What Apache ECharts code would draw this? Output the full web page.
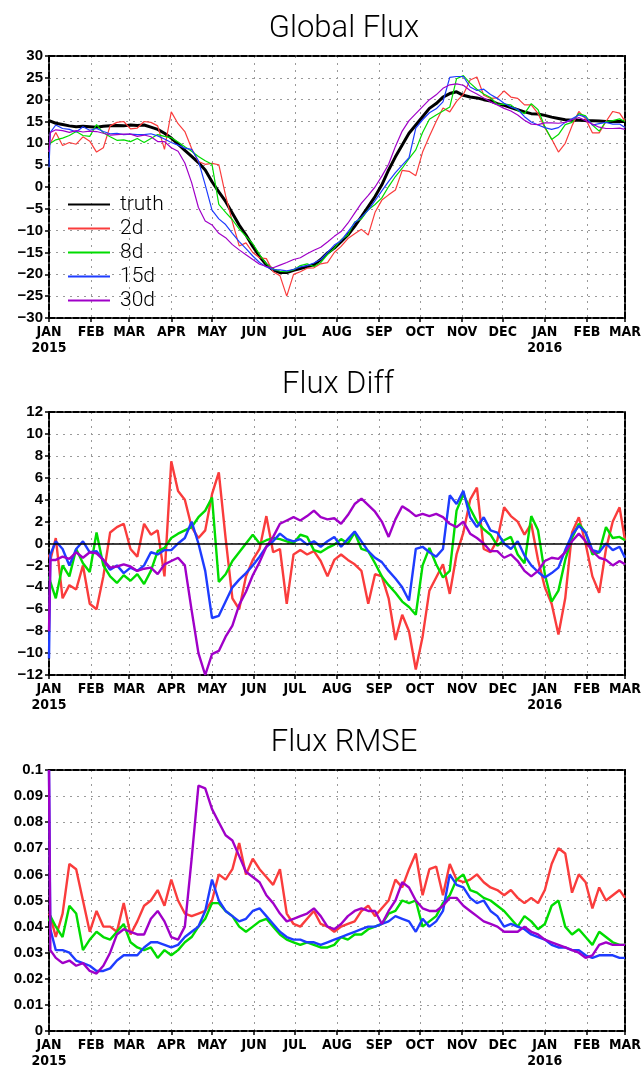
<!DOCTYPE html>
<html>
<head>
<meta charset="utf-8">
<title>Global Flux</title>
<script src="https://cdn.jsdelivr.net/npm/echarts@6/dist/echarts.min.js"></script>
<style>
  html, body { margin: 0; padding: 0; background: #fff; }
  #chart { width: 644px; height: 1069px; }
</style>
</head>
<body>
<div id="chart"></div>
<script>
// ---- x axis: one category per day, 1 Jan 2015 .. 1 Mar 2016 ----
const monthStarts = [0, 31, 59, 90, 120, 151, 181, 212, 243, 273, 304, 334, 365, 396, 424];
const monthLabels = ['JAN\n2015', 'FEB', 'MAR', 'APR', 'MAY', 'JUN', 'JUL', 'AUG', 'SEP', 'OCT', 'NOV', 'DEC', 'JAN\n2016', 'FEB', 'MAR'];

// sample days (day index from 1 Jan 2015)
const days = [0, 1,
  5, 10, 15, 20, 25, 30, 35, 40, 45, 50,
  55, 60, 65, 70, 75, 80, 85, 90, 95, 100,
  105, 110, 115, 120, 125, 130, 135, 140, 145, 150,
  155, 160, 165, 170, 175, 180, 185, 190, 195, 200,
  205, 210, 215, 220, 225, 230, 235, 240, 245, 250,
  255, 260, 265, 270, 275, 280, 285, 290, 295, 300,
  305, 310, 315, 320, 325, 330, 335, 340, 345, 350,
  355, 360, 365, 370, 375, 380, 385, 390, 395, 400,
  405, 410, 415, 420,
  424];

// ---- panel 1: Global Flux ----
const fluxTruth = [15.2, 15.1,
  14.6, 14.3, 14.0, 13.8, 13.9, 13.8, 13.7, 13.9, 14.0, 14.1,
  14.0, 14.2, 14.1, 14.2, 13.7, 13.2, 12.3, 11.2, 9.8, 8.4,
  7.0, 5.6, 3.9, 1.2, -1.1, -3.3, -6.0, -8.7, -11.0, -13.6,
  -15.9, -17.8, -19.0, -19.6, -19.6, -19.1, -18.7, -18.2, -17.8, -16.6,
  -15.1, -14.0, -12.5, -11.0, -9.0, -6.8, -4.5, -2.2, 0.5, 3.9,
  6.9, 9.6, 12.3, 14.2, 16.1, 18.0, 19.1, 20.6, 21.4, 21.8,
  21.0, 20.6, 20.4, 20.0, 19.7, 19.1, 18.7, 18.2, 17.7, 17.2,
  16.8, 16.7, 16.4, 16.0, 15.7, 15.4, 15.3, 15.3, 15.2, 15.2,
  15.1, 15.0, 15.0, 15.0,
  15.0];
const flux2d = [9.5, 10.0,
  12.5, 9.5, 10.2, 9.8, 11.5, 10.5, 8.0, 9.0, 14.0, 14.8,
  15.0, 13.3, 13.5, 15.0, 14.8, 14.0, 8.6, 17.2, 14.5, 12.7,
  8.8, 5.8, 5.2, 5.4, 5.1, -2.0, -8.0, -13.5, -12.8, -15.0,
  -16.2, -16.4, -19.4, -20.3, -25.0, -20.0, -19.4, -18.6, -18.5, -17.6,
  -17.3, -15.0, -13.6, -11.8, -10.7, -9.7, -11.0, -5.8, -3.0, -1.8,
  -0.7, 3.8, 3.6, 2.6, 8.0, 11.6, 15.0, 18.1, 17.2, 19.6,
  21.2, 24.5, 25.2, 21.0, 20.3, 20.4, 22.0, 20.6, 20.3, 18.8,
  18.8, 16.8, 13.5, 11.0, 8.0, 10.0, 14.0, 17.3, 15.6, 12.4,
  12.4, 15.0, 17.3, 16.9,
  15.1];
const flux8d = [9.5, 10.0,
  10.8, 11.2, 11.8, 12.7, 11.8, 11.6, 14.3, 12.4, 11.5, 10.7,
  10.8, 10.4, 11.1, 10.2, 11.1, 12.0, 11.6, 11.3, 10.3, 9.2,
  8.2, 7.0, 6.0, 5.2, -4.0, -5.8, -7.5, -9.6, -11.3, -13.0,
  -15.5, -17.6, -18.8, -19.3, -19.4, -19.0, -18.0, -17.6, -18.2, -17.3,
  -15.5, -14.0, -12.1, -11.0, -8.0, -7.3, -5.2, -4.0, -2.5, 0.1,
  2.4, 4.3, 6.5, 8.5, 12.5, 15.5, 16.5, 17.4, 18.3, 24.8,
  25.5, 23.8, 22.4, 21.3, 20.5, 18.9, 19.0, 18.8, 17.5, 16.8,
  19.1, 17.7, 13.8, 10.9, 12.0, 14.3, 14.8, 16.8, 16.3, 14.2,
  12.8, 15.0, 15.2, 15.6,
  15.0];
const flux15d = [4.6, 12.5,
  14.2, 13.4, 13.2, 12.6, 13.8, 13.0, 13.4, 12.7, 12.2, 12.3,
  12.0, 12.1, 12.0, 12.0, 12.2, 11.7, 11.0, 10.2, 9.6, 8.9,
  8.6, 6.0, 0.5, -5.3, -7.3, -8.6, -10.6, -12.5, -14.1, -15.8,
  -17.3, -18.3, -18.9, -19.0, -19.2, -18.9, -18.3, -18.0, -17.4, -16.6,
  -15.0, -13.3, -12.3, -10.3, -8.2, -6.9, -5.3, -3.1, -0.9, 1.3,
  3.3, 5.0, 6.7, 13.5, 15.4, 17.0, 17.9, 19.5, 25.1, 25.3,
  25.3, 22.9, 22.1, 22.4, 21.2, 20.3, 19.2, 18.3, 17.8, 16.1,
  14.9, 14.2, 13.6, 13.2, 13.6, 14.8, 15.6, 16.5, 16.0, 14.2,
  14.5, 14.8, 14.4, 14.4,
  13.6];
const flux30d = [8.0, 12.5,
  13.1, 12.9, 12.5, 12.9, 12.6, 12.8, 12.7, 12.3, 11.9, 12.0,
  12.1, 12.1, 11.6, 11.9, 11.5, 10.4, 10.4, 9.0, 8.2, 5.5,
  1.0, -4.7, -7.8, -8.7, -10.6, -11.6, -13.2, -14.4, -15.5, -16.6,
  -17.7, -18.2, -18.5, -17.9, -17.3, -16.6, -16.2, -15.3, -14.5, -13.8,
  -12.6, -11.3, -10.2, -8.3, -6.0, -3.7, -1.9, 0.0, 2.5, 5.2,
  9.3, 12.8, 15.2, 16.8, 18.4, 20.0, 21.1, 22.6, 23.4, 23.6,
  23.3, 22.1, 21.3, 20.4, 19.5, 18.8, 18.0, 17.4, 16.5, 15.3,
  14.4, 14.3, 14.7, 14.7, 14.6, 14.8, 15.4, 15.9, 15.2, 14.4,
  13.7, 13.4, 13.4, 13.5,
  13.2];

// ---- panel 2: Flux Diff ----
const diff2d = [-1.0, -1.5,
  0.5, -5.0, -3.8, -4.2, -2.0, -5.5, -6.0, -3.0, 1.0, 1.5,
  1.8, -0.5, -1.2, 1.8, 0.8, 1.2, -3.0, 7.5, 4.8, 4.0,
  1.5, 0.5, 1.2, 4.5, 6.5, 0.5, -5.0, -6.0, -3.0, -1.5,
  -0.5, 2.5, -0.8, -0.5, -5.5, -1.0, -0.6, -1.0, -0.7, -1.6,
  -3.0, -1.5, -1.0, -1.5, -1.9, -2.5, -5.5, -2.8, -3.0, -5.0,
  -8.8, -6.5, -8.0, -11.5, -8.5, -4.3, -3.1, -1.9, -4.6, -1.0,
  1.0, 4.0, 5.1, -0.5, -0.8, 0.3, 3.3, 2.5, 2.0, 0.8,
  1.8, -1.5, -4.0, -5.5, -8.3, -5.0, 1.0, 2.4, 0.0, -3.0,
  -4.5, -0.5, 2.0, 3.3,
  0.3];
const diff8d = [-3.0, -3.5,
  -5.0, -2.0, -3.0, -0.5, -1.8, -2.6, 1.0, -2.0, -3.0, -3.6,
  -2.9, -3.4, -2.8, -3.7, -2.5, -0.7, -0.4, 0.5, 0.9, 1.2,
  1.5, 2.4, 3.0, 4.2, -3.5, -2.8, -1.6, -0.8, 0.0, 0.8,
  0.0, 0.3, 0.5, 0.4, 0.2, 0.0, 0.8, 0.6, -0.6, -0.8,
  -0.4, -0.1, 0.4, 0.0, 1.0, -0.5, -0.7, -1.8, -3.0, -3.8,
  -4.5, -5.3, -5.8, -6.5, -2.0, -0.4, -1.9, -3.1, -2.5, 3.0,
  4.5, 3.2, 2.0, 1.3, 0.8, -0.2, 0.3, 0.6, -1.0, -1.8,
  2.5, 1.2, -2.8, -5.3, -4.3, -1.5, 0.5, 1.8, 1.0, -1.0,
  -0.8, 1.5, 0.5, 0.6,
  0.3];
const diff15d = [-10.5, -1.0,
  0.2, -0.5, -2.0, -0.5, 0.2, -0.8, -0.7, -1.5, -2.4, -2.0,
  -2.7, -2.2, -2.5, -2.0, -0.8, -1.0, -0.6, -0.6, 0.0, 0.5,
  2.0, 0.0, -2.5, -6.8, -6.6, -5.3, -4.0, -3.3, -2.7, -2.0,
  -1.2, -0.3, 0.2, 0.9, 0.4, 0.2, 0.4, -0.1, 0.2, -0.3,
  0.2, 0.6, -0.3, 0.4, 1.1, 0.2, -0.7, -1.3, -1.7, -2.5,
  -3.2, -4.0, -5.2, -0.5, -0.3, -0.8, -1.2, -0.5, 4.4, 3.6,
  4.8, 2.4, 1.5, 2.4, 1.2, 1.0, 0.0, -0.5, 0.2, -1.1,
  -2.0, -2.6, -3.1, -2.7, -2.2, -0.6, 0.8, 1.6, 1.0, -0.6,
  -0.8, 0.0, -0.6, -0.3,
  -1.3];
const diff30d = [-8.0, -1.5,
  -1.5, -1.2, -1.4, -0.8, -1.3, -0.8, -0.9, -1.5, -2.2, -2.1,
  -1.9, -2.1, -2.5, -2.3, -2.2, -2.8, -1.9, -1.6, -1.3, -2.0,
  -6.1, -10.0, -12.0, -10.1, -9.8, -8.5, -7.5, -5.6, -4.4, -2.9,
  -1.7, -0.3, 0.6, 1.8, 2.1, 2.4, 2.1, 2.5, 3.0, 2.4,
  2.2, 2.3, 1.8, 2.6, 3.6, 4.1, 3.5, 2.9, 2.0, 0.6,
  2.2, 3.4, 3.0, 2.5, 2.7, 2.5, 2.7, 2.4, 1.8, 1.5,
  2.0, 0.9, 0.5, 0.0, -0.7, -0.7, -1.3, -1.0, -1.6, -2.5,
  -3.0, -2.5, -1.6, -1.3, -1.4, -0.8, 0.2, 0.9, 0.2, -0.7,
  -1.3, -1.5, -2.0, -1.6,
  -1.9];

// ---- panel 3: Flux RMSE ----
const rmse2d = [0.045, 0.044,
  0.036, 0.045, 0.064, 0.062, 0.050, 0.038, 0.046, 0.040, 0.040, 0.038,
  0.049, 0.037, 0.042, 0.048, 0.050, 0.054, 0.048, 0.058, 0.050, 0.045,
  0.044, 0.045, 0.046, 0.050, 0.060, 0.058, 0.062, 0.072, 0.060, 0.066,
  0.062, 0.059, 0.056, 0.062, 0.045, 0.041, 0.040, 0.043, 0.046, 0.041,
  0.040, 0.038, 0.040, 0.041, 0.042, 0.046, 0.048, 0.044, 0.047, 0.050,
  0.058, 0.055, 0.062, 0.068, 0.052, 0.062, 0.063, 0.052, 0.064, 0.058,
  0.057, 0.058, 0.060, 0.057, 0.055, 0.054, 0.052, 0.054, 0.051, 0.049,
  0.051, 0.049, 0.054, 0.064, 0.070, 0.068, 0.053, 0.060, 0.057, 0.047,
  0.055, 0.050, 0.052, 0.054,
  0.051];
const rmse8d = [0.042, 0.044,
  0.040, 0.036, 0.048, 0.045, 0.031, 0.035, 0.038, 0.036, 0.035, 0.038,
  0.041, 0.034, 0.032, 0.031, 0.032, 0.028, 0.031, 0.029, 0.031, 0.034,
  0.036, 0.040, 0.043, 0.049, 0.049, 0.046, 0.044, 0.040, 0.038, 0.040,
  0.042, 0.043, 0.040, 0.037, 0.035, 0.034, 0.033, 0.034, 0.033, 0.032,
  0.032, 0.033, 0.036, 0.035, 0.037, 0.037, 0.039, 0.040, 0.041, 0.045,
  0.046, 0.050, 0.049, 0.050, 0.040, 0.042, 0.044, 0.049, 0.052, 0.058,
  0.060, 0.054, 0.053, 0.051, 0.050, 0.048, 0.046, 0.043, 0.040, 0.044,
  0.042, 0.039, 0.041, 0.048, 0.050, 0.040, 0.037, 0.039, 0.036, 0.033,
  0.038, 0.036, 0.034, 0.033,
  0.033];
const rmse15d = [0.100, 0.039,
  0.031, 0.031, 0.030, 0.027, 0.026, 0.025, 0.023, 0.023, 0.024, 0.027,
  0.029, 0.029, 0.029, 0.032, 0.034, 0.034, 0.033, 0.032, 0.033, 0.036,
  0.038, 0.040, 0.046, 0.058, 0.050, 0.046, 0.044, 0.042, 0.043, 0.046,
  0.047, 0.044, 0.041, 0.038, 0.036, 0.035, 0.035, 0.034, 0.034, 0.033,
  0.034, 0.035, 0.036, 0.037, 0.038, 0.039, 0.040, 0.040, 0.041, 0.042,
  0.044, 0.043, 0.042, 0.038, 0.043, 0.040, 0.042, 0.046, 0.060, 0.056,
  0.055, 0.051, 0.049, 0.050, 0.046, 0.044, 0.040, 0.041, 0.040, 0.039,
  0.037, 0.036, 0.035, 0.033, 0.032, 0.032, 0.031, 0.031, 0.029, 0.028,
  0.029, 0.029, 0.029, 0.028,
  0.028];
const rmse30d = [0.100, 0.031,
  0.028, 0.026, 0.027, 0.025, 0.026, 0.023, 0.022, 0.025, 0.030, 0.037,
  0.039, 0.038, 0.037, 0.037, 0.043, 0.046, 0.042, 0.036, 0.035, 0.040,
  0.066, 0.094, 0.093, 0.085, 0.080, 0.075, 0.073, 0.067, 0.061, 0.059,
  0.057, 0.052, 0.049, 0.045, 0.042, 0.043, 0.044, 0.045, 0.047, 0.044,
  0.040, 0.039, 0.041, 0.044, 0.046, 0.047, 0.046, 0.046, 0.041, 0.046,
  0.050, 0.057, 0.055, 0.050, 0.047, 0.046, 0.046, 0.048, 0.051, 0.051,
  0.048, 0.046, 0.044, 0.042, 0.041, 0.040, 0.038, 0.038, 0.038, 0.040,
  0.038, 0.037, 0.035, 0.034, 0.033, 0.032, 0.031, 0.030, 0.028, 0.029,
  0.033, 0.034, 0.033, 0.033,
  0.033];

// ============ 样式 ============
const C_TRUTH = '#000000';
const C_2D = '#fa3c3c';
const C_8D = '#00dc00';
const C_15D = '#1e3cff';
const C_30D = '#a000c8';

const labelFont = "'Liberation Sans', Arial, sans-serif";
const monthFont = "'DejaVu Sans Condensed', 'Liberation Sans', sans-serif";
const thinFont = "Roboto, 'Open Sans', Lato, 'DejaVu Sans', sans-serif";
const frameLine = { color: '#000', width: 2, type: [6, 2] };
const gridDots = { color: '#9a9a9a', width: 1, type: [2, 5] };

const dayCats = [];
for (let i = 0; i <= 424; i++) dayCats.push(String(i));
const isMonth = (idx) => monthStarts.indexOf(idx) >= 0;
const pairs = (vals) => days.map((d, i) => [d, vals[i]]);
const minus = (s) => String(s).replace('-', '\u2212');

const grids = [
  { left: 49, top: 56, width: 579, height: 262 },
  { left: 49, top: 412, width: 579, height: 263 },
  { left: 49, top: 770, width: 579, height: 263 }
];

const bottomAxis = (g) => ({
  type: 'category', gridIndex: g, data: dayCats, boundaryGap: false,
  axisLine: { onZero: false, lineStyle: frameLine },
  axisTick: { interval: isMonth, length: 4, lineStyle: { color: '#000', width: 1.5 } },
  axisLabel: {
    interval: isMonth, margin: 6, color: '#000', fontFamily: monthFont,
    fontSize: 14, fontWeight: 'bold', lineHeight: 16,
    formatter: (v, idx) => monthLabels[monthStarts.indexOf(idx)]
  },
  splitLine: { show: true, interval: isMonth, lineStyle: gridDots }
});
const topAxis = (g) => ({
  type: 'category', gridIndex: g, data: dayCats, boundaryGap: false, position: 'top',
  axisLine: { onZero: false, lineStyle: frameLine },
  axisTick: { show: false }, axisLabel: { show: false }, splitLine: { show: false }
});
const leftAxis = (g, min, max, interval, fmt) => ({
  type: 'value', gridIndex: g, min, max, interval,
  axisLine: { show: true, onZero: false, lineStyle: frameLine },
  axisTick: { show: true, length: 4, lineStyle: { color: '#000', width: 1.5 } },
  axisLabel: { margin: 6, color: '#000', fontFamily: labelFont, fontSize: 15, fontWeight: 'bold', formatter: fmt },
  splitLine: { show: true, lineStyle: gridDots }
});
const rightAxis = (g, min, max, interval) => ({
  type: 'value', gridIndex: g, min, max, interval, position: 'right',
  axisLine: { show: true, onZero: false, lineStyle: frameLine },
  axisTick: { show: false }, axisLabel: { show: false }, splitLine: { show: false }
});

const line = (name, vals, color, g, width, extra) => Object.assign({
  name, type: 'line', xAxisIndex: g, yAxisIndex: g, data: pairs(vals),
  symbol: 'none', lineStyle: { color, width }, itemStyle: { color },
  silent: true
}, extra || {});

const titleStyle = { color: '#000', fontFamily: thinFont, fontWeight: 300, fontSize: 31 };

const chart = echarts.init(document.getElementById('chart'), null, { renderer: 'canvas' });
chart.setOption({
  animation: false,
  backgroundColor: '#fff',
  title: [
    { text: 'Global Flux', left: 339, top: 9, textAlign: 'center', textStyle: titleStyle },
    { text: 'Flux Diff', left: 333, top: 365, textAlign: 'center', textStyle: titleStyle },
    { text: 'Flux RMSE', left: 339, top: 723, textAlign: 'center', textStyle: titleStyle }
  ],
  legend: {
    data: ['truth', '2d', '8d', '15d', '30d'],
    orient: 'vertical', left: 63, top: 189,
    icon: 'rect', itemWidth: 42, itemHeight: 2, itemGap: 3,
    selectedMode: false,
    textStyle: { color: '#000', fontFamily: thinFont, fontWeight: 300, fontSize: 21, padding: [0, 0, 0, 5] }
  },
  grid: grids,
  xAxis: [bottomAxis(0), bottomAxis(1), bottomAxis(2), topAxis(0), topAxis(1), topAxis(2)],
  yAxis: [
    leftAxis(0, -30, 30, 5, (v) => minus(v)),
    leftAxis(1, -12, 12, 2, (v) => minus(v)),
    leftAxis(2, 0, 0.1, 0.01, (v) => String(+v.toFixed(2))),
    rightAxis(0, -30, 30, 5), rightAxis(1, -12, 12, 2), rightAxis(2, 0, 0.1, 0.01)
  ],
  series: [
    line('truth', fluxTruth, C_TRUTH, 0, 3),
    line('2d', flux2d, C_2D, 0, 1.2),
    line('8d', flux8d, C_8D, 0, 1.2),
    line('15d', flux15d, C_15D, 0, 1.2),
    line('30d', flux30d, C_30D, 0, 1.2),

    line('2d', diff2d, C_2D, 1, 2.4, {
      markLine: {
        silent: true, symbol: 'none', label: { show: false },
        lineStyle: { color: '#000', type: 'solid', width: 1.5 },
        data: [{ yAxis: 0 }]
      }
    }),
    line('8d', diff8d, C_8D, 1, 2.4),
    line('15d', diff15d, C_15D, 1, 2.4),
    line('30d', diff30d, C_30D, 1, 2.4),

    line('2d', rmse2d, C_2D, 2, 2.4),
    line('8d', rmse8d, C_8D, 2, 2.4),
    line('15d', rmse15d, C_15D, 2, 2.4),
    line('30d', rmse30d, C_30D, 2, 2.4)
  ]
});
</script>
</body>
</html>
